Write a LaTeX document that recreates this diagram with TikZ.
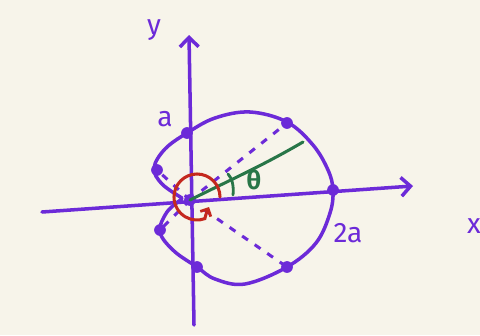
\documentclass[tikz,border=0pt]{standalone}
\usepackage{fontspec}
\setmainfont{Fira Sans}
\usetikzlibrary{arrows.meta,calc}
\definecolor{bg}{RGB}{247,244,234}
\definecolor{pur}{RGB}{108,42,216}
\definecolor{rd}{RGB}{196,40,30}
\definecolor{gr}{RGB}{40,118,72}
\tikzset{
  ax/.style={draw=pur, line width=3pt, line cap=round},
  curve/.style={draw=pur, line width=3pt, line cap=round, line join=round},
  dsh/.style={draw=pur, line width=2.6pt, dash pattern=on 6pt off 7pt},
  dot/.style={circle, fill=pur, inner sep=0pt, minimum size=10pt},
  lbl/.style={text=pur, font=\fontsize{24}{24}\selectfont},
  arrowhead/.style={-{Straight Barb[length=8pt,width=16pt,line width=3pt]}}
}
\begin{document}
\begin{tikzpicture}[x=0.03cm, y=-0.03cm]
\fill[bg] (0,0) rectangle (480,335);
\useasboundingbox (0,0) rectangle (480,335);
% named points
\coordinate (O) at (190,200);
\coordinate (xl) at (42,212);
\coordinate (xr) at (413,186);
\coordinate (yb) at (194,325);
\coordinate (yt) at (189,35);
\coordinate (g) at (303,142);
% axes
\draw[ax, arrowhead] (xl) -- (xr);
\draw[ax, arrowhead] (yb) -- (yt);
% dashed radii
\coordinate (pUR) at (287,123);
\coordinate (pLR) at (287,267);
\coordinate (pUL) at (157,170);
\coordinate (pLL) at (160,230);
\draw[dsh] ($(O)!0.12!(pUR)$) -- (pUR);
\draw[dsh] ($(O)!0.15!(pLR)$) -- (pLR);
\draw[dsh] (O) -- (pUL);
\draw[dsh] (O) -- (pLL);
% cardioid
\draw[curve] plot[smooth, tension=0.6] coordinates {
 (182,198) (162,184) (154,168) (165,149) (187,133) (215,118) (250,112)
 (287,122) (313,145) (328,170) (333,190) (330,213) (316,243) (287,267)
 (245,284) (215,279) (197,267) (174,251) (160,232) (167,212) (182,199)};
% dots
\foreach \n/\xx/\yy in {d1/157/170, d2/187/133, d3/287/123, d4/333/190, d5/287/267, d6/197/267, d7/160/230, d8/190/200}
  \node[dot] (\n) at (\xx,\yy) {};
% green radius
\draw[gr, line width=2.6pt, line cap=round] (O) .. controls (230,180) and (262,166) .. (g);
\draw[gr, line width=2.4pt, line cap=round] (228,174) .. controls (232,178) and (234,186) .. (233,195);
\node[text=gr, font=\fontsize{22}{22}\selectfont\bfseries] (th) at (254,180) {θ};
% red circle with arrow
\draw[rd, line width=2.6pt, line cap=round, -{Straight Barb[length=5pt,width=10pt,line width=2.4pt]}]
  (220,197) arc[start angle=0, end angle=290, radius=0.69cm]
  .. controls (206,214) and (207,211) .. (209,207);
% labels
\node[lbl] (ly) at (154,30) {y};
\node[lbl] (lx) at (474,226) {x};
\node[lbl] (la) at (165,119) {a};
\node[lbl] (l2a) at (348,233) {2a};
\end{tikzpicture}
\end{document}
